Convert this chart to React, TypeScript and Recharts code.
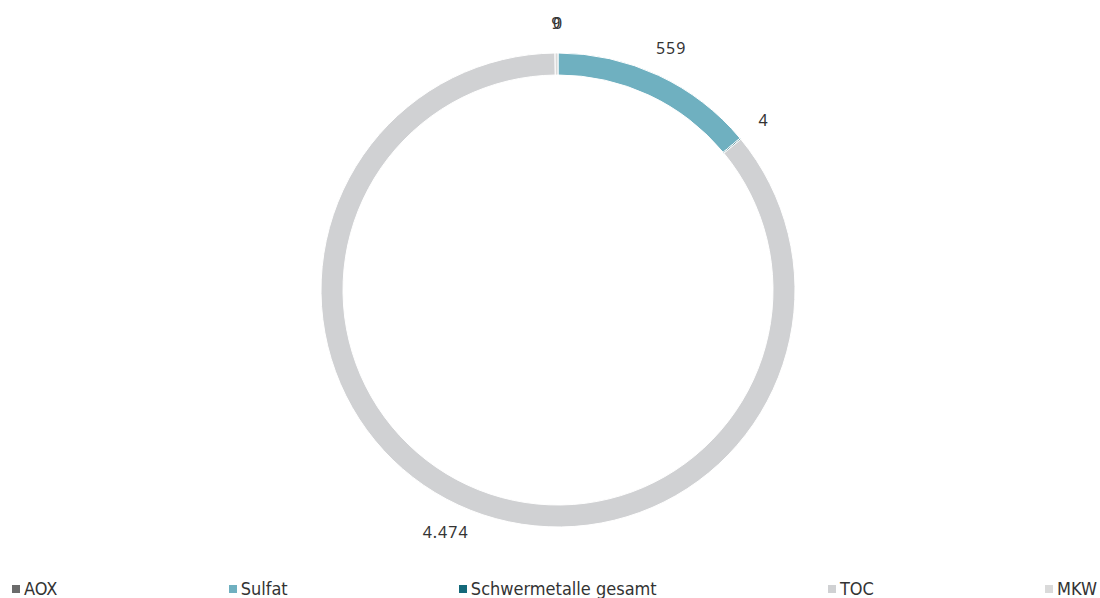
import { PieChart, Pie, Cell } from "recharts";

const categories = ["AOX", "Sulfat", "Schwermetalle gesamt", "TOC", "MKW"];
// slice sizes
const values = [0, 559, 3.5, 3440, 8];
// labels as printed on the chart
const valueLabels = ["0", "559", "4", "4.474", "9"];
const colors = ["#6b6b6b", "#6fb0c0", "#14697a", "#d0d1d3", "#dadada"];

const data = categories.map((name, i) => ({ name, value: values[i] }));

const RADIAN = Math.PI / 180;

function renderLabel(props: any) {
  const { cx, cy, midAngle, outerRadius, index } = props;
  const r = outerRadius + 30;
  const x = cx + r * Math.cos(-midAngle * RADIAN);
  const y = cy + r * Math.sin(-midAngle * RADIAN);
  return (
    <text
      x={x}
      y={y}
      textAnchor="middle"
      dominantBaseline="central"
      fill="#333"
      fontSize={16}
      letterSpacing={1}
      fontFamily="'Noto Sans', sans-serif"
    >
      {valueLabels[index]}
    </text>
  );
}

export default function App() {
  return (
    <div style={{ position: "absolute", left: 0, top: 0, width: 1100, height: 598, background: "#fff" }}>
      <PieChart width={1100} height={570} margin={{ top: 0, right: 0, bottom: 0, left: 0 }}>
        <Pie
          data={data}
          dataKey="value"
          nameKey="name"
          cx={558}
          cy={290}
          innerRadius={215}
          outerRadius={237}
          startAngle={90}
          endAngle={-270}
          stroke="#fff"
          strokeWidth={1}
          label={renderLabel}
          labelLine={false}
          isAnimationActive={false}
        >
          {data.map((d, i) => (
            <Cell key={d.name} fill={colors[i]} />
          ))}
        </Pie>
      </PieChart>
      <div
        style={{
          position: "absolute",
          left: 12,
          right: 3,
          top: 579,
          display: "flex",
          justifyContent: "space-between",
          fontFamily: "'Liberation Sans Narrow', 'DejaVu Sans Condensed', sans-serif",
          fontSize: 18,
          color: "#333",
          lineHeight: "20px",
        }}
      >
        {categories.map((c, i) => (
          <div key={c} style={{ display: "flex", alignItems: "center" }}>
            <span
              style={{
                display: "inline-block",
                width: 8,
                height: 8,
                background: colors[i],
                marginRight: 4,
              }}
            />
            <span>{c}</span>
          </div>
        ))}
      </div>
    </div>
  );
}
